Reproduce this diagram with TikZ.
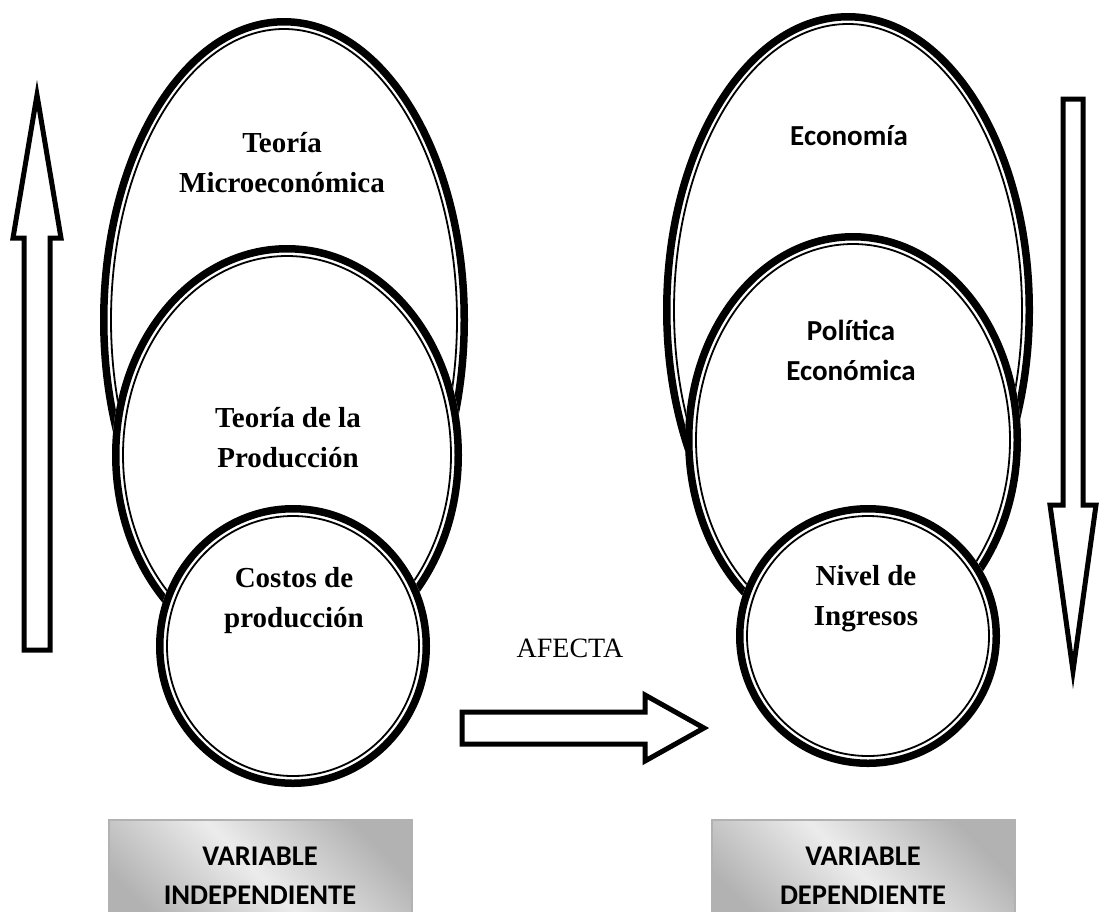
\documentclass[tikz,border=0pt]{standalone}
\usepackage{fontspec}
\setmainfont{Liberation Serif}
\newfontfamily\carlito{Carlito}

% oval with a thick outer line and a thin inner line
\newcommand{\ring}[5]{%
	\fill[white] (#2,#3) ellipse [x radius=#4, y radius=#5];
	\draw[line width=7.5pt] (#2,#3) ellipse [x radius=#4-3.75, y radius=#5-3.75];
	\draw[line width=1.8pt] (#2,#3) ellipse [x radius=#4-11, y radius=#5-11];
	\coordinate (#1) at (#2,#3);
}

\begin{document}
\begin{tikzpicture}[x=1pt,y=-1pt,
		serif/.style={font=\bfseries\fontsize{29}{40}\selectfont, align=center, anchor=base, inner sep=0},
		sans/.style={font=\carlito\bfseries\fontsize{29}{40}\selectfont, align=center, anchor=base, inner sep=0},
		blockarrow/.style={draw, line width=5pt, fill=white, miter limit=20},
		varbox/.style={draw=gray!60, line width=2pt, minimum width=303pt, minimum height=112pt,
			top color=gray!60, bottom color=gray!60, middle color=gray!15, shading angle=-45,
			font=\carlito\bfseries\fontsize{28.5}{39}\selectfont, align=center, inner sep=0}]
	
	\useasboundingbox (0,0) rectangle (1099,911);
	\clip (0,0) rectangle (1099,911);
	
	% independiente
	\ring{micro}{284}{320}{184}{302}
	\ring{prod}{287}{455}{175}{210}
	\ring{costos}{293}{646}{137}{141}
	\node (tmicro) at (282,192) [serif] {Teoría\\Microeconómica};
	\node (tprod) at (288,467) [serif] {Teoría de la\\Producción};
	\node (tcostos) at (294,627) [serif] {Costos de\\producción};
	
	% dependiente
	\ring{econ}{848}{310}{185}{297}
	\ring{polit}{853}{440}{168}{207}
	\ring{nivel}{868}{636}{132}{131}
	\node (tecon) at (849,145) [sans] {Economía};
	\node (tpolit) at (851,380) [sans] {Política\\Económica};
	\node (tnivel) at (866,625) [serif] {Nivel de\\Ingresos};
	
	% flechas
	\draw[blockarrow] (24,650) -- (24,238) -- (13,238) -- (37,95) -- (61,238) -- (50,238) -- (50,650) -- cycle;
	\draw[blockarrow] (1063,99) -- (1083,99) -- (1083,505) -- (1096,505) -- (1073,671) -- (1050,505) -- (1063,505) -- cycle;
	\draw[blockarrow] (462,712) -- (645,712) -- (645,695) -- (704,728) -- (645,761) -- (645,744) -- (462,744) -- cycle;
	\node (afecta) at (570,657) [anchor=base, inner sep=0, font=\fontsize{28}{34}\selectfont] {AFECTA};
	
	% variables
	\node (vi) at (260,876) [varbox] {VARIABLE\\INDEPENDIENTE};
	\node (vd) at (863,876) [varbox] {VARIABLE\\DEPENDIENTE};
	
\end{tikzpicture}
\end{document}
